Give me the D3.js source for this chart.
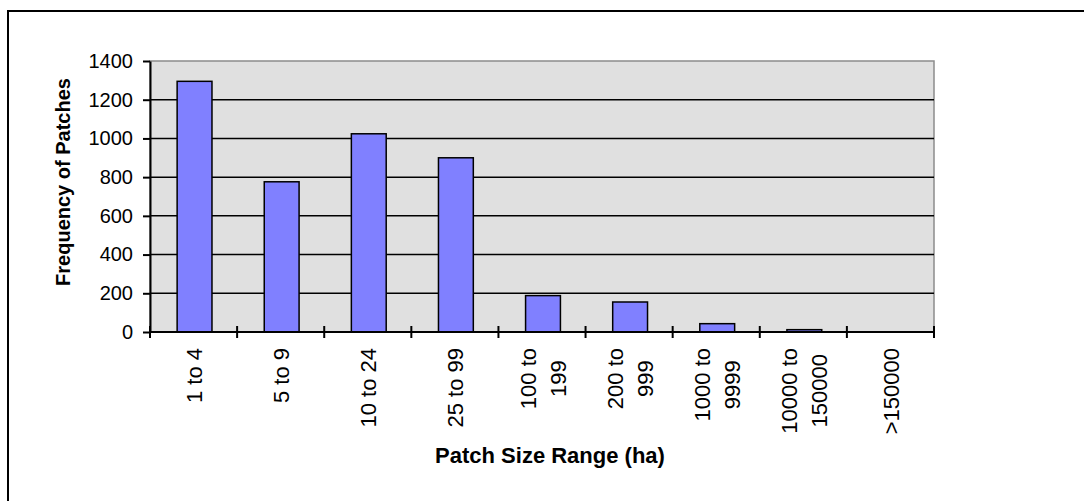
<!DOCTYPE html>
<html>
<head>
<meta charset="utf-8">
<script src="https://cdn.jsdelivr.net/npm/d3@7"></script>
<style>
  html, body { margin: 0; padding: 0; background: #fff; }
  svg { display: block; font-family: Arial, "Liberation Sans", sans-serif; }
</style>
</head>
<body>
<svg id="chart" width="1084" height="501"></svg>
<script>
// Patch size classes (ha) and how many patches fall into each
const categories = ["1 to 4", "5 to 9", "10 to 24", "25 to 99", "100 to\n199", "200 to\n999", "1000 to\n9999", "10000 to\n150000", ">150000"];
const frequencies = [1295, 776, 1024, 900, 188, 155, 43, 12, 0];
const yTicks = [0, 200, 400, 600, 800, 1000, 1200, 1400];
const yTitle = "Frequency of Patches";
const xTitle = "Patch Size Range (ha)";

const svg = d3.select("#chart");
const plot = { left: 150, right: 934, top: 61, bottom: 332 };

// outer chart frame (runs off the right and bottom edges)
svg.append("rect")
  .attr("x", 8).attr("y", 11)
  .attr("width", 1100).attr("height", 520)
  .attr("fill", "#fff").attr("stroke", "#000").attr("stroke-width", 2);

const x = d3.scaleBand().domain(categories).range([plot.left, plot.right]).paddingInner(0).paddingOuter(0);
const y = d3.scaleLinear().domain([0, 1400]).range([plot.bottom, plot.top]);

// plot area
svg.append("rect")
  .attr("x", plot.left).attr("y", plot.top)
  .attr("width", plot.right - plot.left).attr("height", plot.bottom - plot.top)
  .attr("fill", "#e0e0e0").attr("stroke", "#8c8c8c").attr("stroke-width", 1.5);

// horizontal gridlines
svg.append("g").selectAll("line")
  .data(yTicks.filter(v => v > 0 && v < 1400))
  .join("line")
  .attr("x1", plot.left).attr("x2", plot.right)
  .attr("y1", d => y(d)).attr("y2", d => y(d))
  .attr("stroke", "#000").attr("stroke-width", 1.5);

// bars
const barW = x.bandwidth() / 2.5;
svg.append("g").selectAll("rect")
  .data(categories.map((c, i) => ({ c, v: frequencies[i] })))
  .join("rect")
  .attr("x", d => x(d.c) + (x.bandwidth() - barW) / 2 + 1)
  .attr("y", d => y(d.v))
  .attr("width", barW)
  .attr("height", d => y(0) - y(d.v))
  .attr("fill", "#8080ff")
  .attr("stroke", "#000")
  .attr("stroke-width", d => d.v > 0 ? 1.5 : 0);

// y axis
const yAxis = svg.append("g")
  .attr("transform", `translate(${plot.left},0)`)
  .call(d3.axisLeft(y).tickValues(yTicks).tickFormat(d3.format("d"))
    .tickSize(7).tickPadding(10).tickSizeOuter(0));
yAxis.select(".domain").attr("stroke", "#000").attr("stroke-width", 2);
yAxis.selectAll(".tick line").attr("stroke", "#000").attr("stroke-width", 2);
yAxis.selectAll(".tick text")
  .attr("font-size", 20).attr("fill", "#000")
  .attr("font-family", "Arial, 'Liberation Sans', sans-serif");

// x axis with ticks crossing the baseline at category boundaries
const xAxisG = svg.append("g");
xAxisG.append("line")
  .attr("x1", plot.left).attr("x2", plot.right)
  .attr("y1", plot.bottom).attr("y2", plot.bottom)
  .attr("stroke", "#000").attr("stroke-width", 2);
const boundaries = categories.map(c => x(c)).concat([x(categories[categories.length - 1]) + x.bandwidth()]);
xAxisG.selectAll("line.tick")
  .data(boundaries)
  .join("line")
  .attr("class", "tick")
  .attr("x1", d => d).attr("x2", d => d)
  .attr("y1", plot.bottom - 6).attr("y2", plot.bottom + 6)
  .attr("stroke", "#000").attr("stroke-width", 2);

// rotated category labels, each block topped at the same height
const labelTop = 348;
const lineGap = 30;
categories.forEach(c => {
  const lines = c.split("\n");
  const cx = x(c) + x.bandwidth() / 2 + 1;
  const g = svg.append("g");
  const texts = lines.map((ln, i) => g.append("text")
    .text(ln)
    .attr("font-size", 22)
    .attr("text-anchor", "middle")
    .attr("dominant-baseline", "central")
    .attr("fill", "#000"));
  const maxW = d3.max(texts, t => t.node().getComputedTextLength());
  const cy = labelTop + maxW / 2;
  texts.forEach((t, i) => {
    const lx = cx + (i - (lines.length - 1) / 2) * lineGap;
    t.attr("transform", `translate(${lx},${cy}) rotate(-90)`);
  });
});

// axis titles
svg.append("text")
  .attr("transform", "translate(63,182) rotate(-90)")
  .attr("text-anchor", "middle")
  .attr("dominant-baseline", "central")
  .attr("font-size", 20).attr("font-weight", "bold")
  .text(yTitle);

svg.append("text")
  .attr("x", 550).attr("y", 463)
  .attr("text-anchor", "middle")
  .attr("font-size", 22).attr("font-weight", "bold")
  .text(xTitle);
</script>
</body>
</html>
